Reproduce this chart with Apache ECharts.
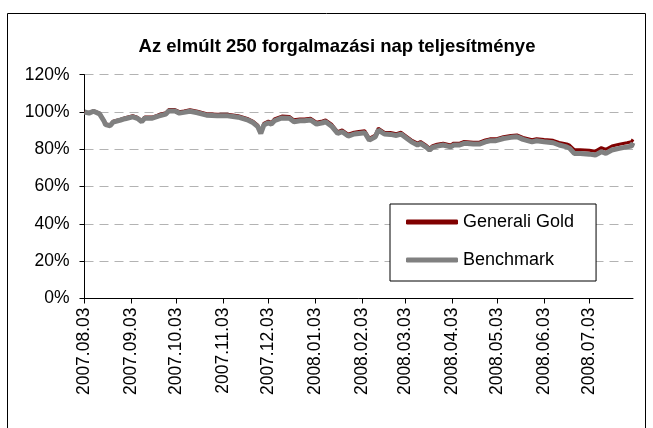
<!DOCTYPE html>
<html>
<head>
<meta charset="utf-8">
<script src="https://cdn.jsdelivr.net/npm/echarts@6/dist/echarts.min.js"></script>
<style>
html, body { margin: 0; padding: 0; background: #fff; }
#chart { width: 653px; height: 428px; }
</style>
</head>
<body>
<div id="chart"></div>
<script>
// napi adatok
const dates = [
  '2007.08.03', '2007.08.06', '2007.08.09', '2007.08.13', '2007.08.14', '2007.08.16', '2007.08.17', '2007.08.20',
  '2007.08.22', '2007.08.27', '2007.08.30', '2007.09.04', '2007.09.07', '2007.09.10', '2007.09.12', '2007.09.17',
  '2007.09.21', '2007.09.26', '2007.09.28', '2007.10.02', '2007.10.05', '2007.10.08', '2007.10.12', '2007.10.17',
  '2007.10.23', '2007.10.30', '2007.11.06', '2007.11.13', '2007.11.19', '2007.11.23', '2007.11.26', '2007.11.28',
  '2007.11.30', '2007.12.03', '2007.12.05', '2007.12.07', '2007.12.12', '2007.12.17', '2007.12.20', '2007.12.24',
  '2007.12.27', '2007.12.31', '2008.01.04', '2008.01.08', '2008.01.10', '2008.01.14', '2008.01.18', '2008.01.21',
  '2008.01.25', '2008.01.29', '2008.02.01', '2008.02.05', '2008.02.08', '2008.02.12', '2008.02.14', '2008.02.18',
  '2008.02.22', '2008.02.26', '2008.02.29', '2008.03.04', '2008.03.07', '2008.03.11', '2008.03.13', '2008.03.17',
  '2008.03.19', '2008.03.21', '2008.03.24', '2008.03.28', '2008.04.02', '2008.04.04', '2008.04.08', '2008.04.11',
  '2008.04.17', '2008.04.21', '2008.04.25', '2008.04.28', '2008.05.02', '2008.05.07', '2008.05.12', '2008.05.16',
  '2008.05.20', '2008.05.26', '2008.05.29', '2008.06.03', '2008.06.09', '2008.06.13', '2008.06.18', '2008.06.20',
  '2008.06.23', '2008.06.27', '2008.07.03', '2008.07.07', '2008.07.11', '2008.07.14', '2008.07.18', '2008.07.23',
  '2008.07.28', '2008.07.31', '2008.08.01'
];
const goldValues = [
  100.0, 99.6, 100.7, 99.4, 98.7, 95.4, 93.7, 93.1,
  95.1, 96.2, 97.0, 98.0, 97.2, 95.4, 97.3, 97.3,
  98.5, 99.6, 101.4, 101.3, 100.2, 100.6, 101.2, 100.4,
  99.1, 98.8, 98.8, 98.0, 96.6, 95.0, 92.9, 89.4,
  93.9, 95.1, 94.4, 96.3, 97.8, 97.6, 95.8, 96.3,
  96.3, 96.7, 94.5, 95.2, 95.8, 93.4, 89.5, 90.4,
  88.1, 89.2, 89.5, 89.9, 85.9, 87.7, 91.3, 89.2,
  89.0, 88.4, 89.2, 86.8, 85.0, 83.3, 84.2, 82.0,
  80.6, 82.0, 82.7, 83.3, 82.3, 83.3, 83.3, 84.2,
  83.8, 83.8, 85.0, 85.6, 85.6, 86.8, 87.4, 87.7,
  86.4, 85.1, 85.7, 85.2, 84.8, 83.7, 82.9, 82.2,
  79.8, 79.8, 79.5, 79.0, 80.9, 80.0, 81.8, 82.7,
  83.5, 84.0, 85.3
];
const benchValues = [
  100.0, 99.4, 100.4, 99.0, 98.3, 95.0, 93.2, 92.6,
  94.6, 95.7, 96.4, 97.4, 96.6, 94.8, 96.7, 96.7,
  97.8, 98.9, 100.6, 100.5, 99.4, 99.8, 100.4, 99.6,
  98.3, 98.0, 98.0, 97.2, 95.8, 94.2, 92.1, 88.5,
  93.0, 94.2, 93.5, 95.3, 96.8, 96.6, 94.8, 95.3,
  95.3, 95.7, 93.5, 94.2, 94.8, 92.4, 88.5, 89.4,
  87.1, 88.2, 88.5, 88.9, 84.9, 86.7, 90.3, 88.2,
  88.0, 87.4, 88.2, 85.8, 84.0, 82.3, 83.2, 81.0,
  79.6, 81.0, 81.7, 82.3, 81.3, 82.3, 82.3, 83.2,
  82.8, 82.8, 84.0, 84.6, 84.6, 85.8, 86.4, 86.7,
  85.3, 84.0, 84.6, 84.0, 83.5, 82.3, 81.3, 80.5,
  77.8, 77.8, 77.4, 76.9, 78.7, 77.8, 79.6, 80.5,
  81.3, 81.7, 83.5
];
const tickLabels = [
  '2007.08.03', '2007.09.03', '2007.10.03', '2007.11.03', '2007.12.03', '2008.01.03',
  '2008.02.03', '2008.03.03', '2008.04.03', '2008.05.03', '2008.06.03', '2008.07.03'
];
const axisStart = '2007.08.03';
const axisEnd = '2008.08.01';

const fontFam = '"Liberation Sans", Arial, sans-serif';

function toTime (s) {
  const p = s.split('.');
  return new Date(+p[0], +p[1] - 1, +p[2]).getTime();
}
function pad (n) { return n < 10 ? '0' + n : '' + n; }
function fmtDate (t) {
  const d = new Date(t);
  return d.getFullYear() + '.' + pad(d.getMonth() + 1) + '.' + pad(d.getDate());
}

const tickTimes = tickLabels.map(toTime);
const goldData = dates.map((d, i) => [toTime(d), goldValues[i]]);
const benchData = dates.map((d, i) => [toTime(d), benchValues[i]]);

const chart = echarts.init(document.getElementById('chart'), null, { renderer: 'canvas' });

const option = {
  backgroundColor: '#fff',
  animation: false,
  textStyle: { fontFamily: fontFam },
  graphic: [
    {
      type: 'rect',
      z: -1,
      shape: { x: 7.5, y: 13.5, width: 638, height: 430 },
      style: { fill: '#fff', stroke: '#000', lineWidth: 1 }
    },
    {
      type: 'text',
      x: 337,
      y: 47,
      style: {
        text: 'Az elmúlt 250 forgalmazási nap teljesítménye',
        font: 'bold 18.5px ' + fontFam,
        fill: '#000',
        textAlign: 'center',
        textVerticalAlign: 'middle'
      }
    }
  ],
  grid: {
    left: 84.5,
    right: 20,
    top: 74.7,
    bottom: 129.5,
    containLabel: false
  },
  legend: {
    orient: 'vertical',
    left: 390,
    top: 204,
    padding: [9, 22, 12, 16],
    itemGap: 20,
    itemWidth: 52,
    itemHeight: 5,
    icon: 'roundRect',
    borderColor: '#000',
    borderWidth: 1,
    backgroundColor: '#fff',
    textStyle: { fontSize: 18, color: '#000', fontFamily: fontFam },
    data: ['Generali Gold', 'Benchmark']
  },
  xAxis: {
    type: 'value',
    min: toTime(axisStart),
    max: toTime(axisEnd),
    splitLine: { show: false },
    axisLine: { show: true, onZero: false, lineStyle: { color: '#000', width: 1 } },
    axisTick: {
      show: true,
      customValues: tickTimes,
      length: 5,
      lineStyle: { color: '#000' }
    },
    axisLabel: {
      customValues: tickTimes,
      rotate: 90,
      margin: 9,
      color: '#000',
      fontSize: 17.5,
      fontFamily: fontFam,
      showMinLabel: true,
      showMaxLabel: true,
      hideOverlap: false,
      formatter: function (val) { return fmtDate(val); }
    }
  },
  yAxis: {
    type: 'value',
    min: 0,
    max: 120,
    interval: 20,
    axisLine: { show: true, lineStyle: { color: '#000', width: 1 } },
    axisTick: { show: true, length: 5, lineStyle: { color: '#000' } },
    axisLabel: {
      color: '#000',
      fontSize: 17.5,
      fontFamily: fontFam,
      margin: 15,
      formatter: '{value}%'
    },
    splitLine: {
      show: true,
      lineStyle: { color: '#b3b3b3', type: [9, 6], width: 1 }
    }
  },
  series: [
    {
      name: 'Generali Gold',
      type: 'line',
      symbol: 'none',
      showSymbol: false,
      color: '#800000',
      itemStyle: { color: '#800000' },
      lineStyle: { color: '#800000', width: 3 },
      data: goldData
    },
    {
      name: 'Benchmark',
      type: 'line',
      symbol: 'none',
      showSymbol: false,
      color: '#808080',
      itemStyle: { color: '#808080' },
      lineStyle: { color: '#808080', width: 5 },
      data: benchData
    }
  ]
};

chart.setOption(option);
</script>
</body>
</html>
